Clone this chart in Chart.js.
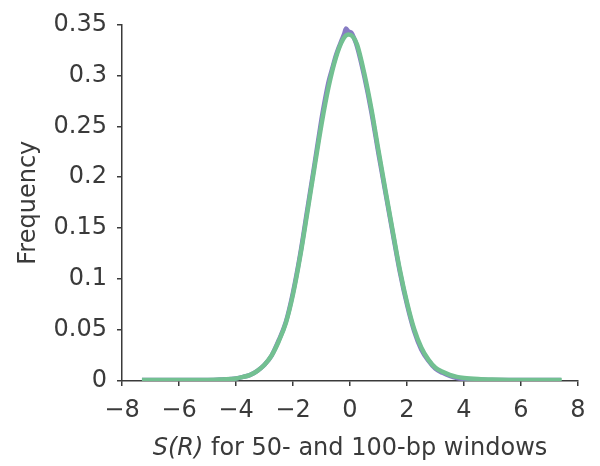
<!DOCTYPE html>
<html>
<head>
<meta charset="utf-8">
<script src="https://cdn.jsdelivr.net/npm/chart.js@4"></script>
<style>
  html, body { margin: 0; padding: 0; background: #fff; }
  #wrap { width: 600px; height: 466px; }
</style>
</head>
<body>
<div id="wrap"><canvas id="myChart" width="600" height="466"></canvas></div>
<script>
// values
const greenX = [-7.3, -6, -5, -4.5, -4.2, -4.0, -3.75, -3.5, -3.25, -3.0, -2.75, -2.5, -2.25, -2.0, -1.75, -1.5, -1.25, -1.0, -0.75, -0.5, -0.25, -0.06, 0.1, 0.25, 0.5, 0.75, 1.0, 1.25, 1.5, 1.75, 2.0, 2.25, 2.5, 2.75, 3.0, 3.25, 3.5, 3.75, 4.0, 4.5, 5, 6, 7.43];
const greenY = [0.001, 0.001, 0.001, 0.0015, 0.002, 0.0025, 0.004, 0.006, 0.010, 0.016, 0.025, 0.039, 0.057, 0.085, 0.122, 0.165, 0.209, 0.252, 0.289, 0.317, 0.335, 0.340, 0.338, 0.330, 0.302, 0.267, 0.226, 0.186, 0.147, 0.109, 0.077, 0.051, 0.033, 0.021, 0.013, 0.009, 0.006, 0.004, 0.003, 0.002, 0.0015, 0.001, 0.001];

const purpleX = [-7.3, -6, -5, -4.5, -4.0, -3.75, -3.5, -3.25, -3.0, -2.75, -2.5, -2.25, -2.0, -1.75, -1.5, -1.25, -1.0, -0.9, -0.75, -0.6, -0.5, -0.4, -0.3, -0.2, -0.14, -0.05, 0.05, 0.15, 0.25, 0.5, 0.75, 1.0, 1.25, 1.5, 1.75, 2.0, 2.25, 2.5, 2.75, 3.0, 3.25, 3.5, 3.75, 4.0, 4.5, 5, 6, 7.4];
const purpleY = [0.001, 0.001, 0.001, 0.0015, 0.0025, 0.004, 0.006, 0.010, 0.016, 0.025, 0.040, 0.058, 0.087, 0.124, 0.168, 0.212, 0.257, 0.273, 0.294, 0.309, 0.319, 0.327, 0.334, 0.341, 0.346, 0.343, 0.342, 0.336, 0.328, 0.299, 0.264, 0.223, 0.184, 0.145, 0.107, 0.075, 0.049, 0.031, 0.020, 0.012, 0.008, 0.005, 0.003, 0.002, 0.0015, 0.001, 0.001, 0.001];

const xTicks = [-8, -6, -4, -2, 0, 2, 4, 6, 8];
const yTicks = [0, 0.05, 0.1, 0.15, 0.2, 0.25, 0.3, 0.35];
const yTitle = 'Frequency';
const xTitleItalic = 'S(R)';
const xTitleRest = ' for 50- and 100-bp windows';

const FONT = 'DejaVu Sans';
const INK = '#3a3a3a';

function toPoints(xs, ys) {
    return xs.map((x, i) => ({x: x, y: ys[i]}));
}

// x axis title has an italic part, so draw it by hand
const xTitlePlugin = {
    id: 'xTitle',
    afterDraw(chart) {
        const ctx = chart.ctx;
        const area = chart.chartArea;
        ctx.save();
        ctx.fillStyle = INK;
        ctx.textBaseline = 'alphabetic';
        ctx.font = 'italic 24px "' + FONT + '"';
        const w1 = ctx.measureText(xTitleItalic).width;
        ctx.font = '24px "' + FONT + '"';
        const w2 = ctx.measureText(xTitleRest).width;
        let x = (area.left + area.right) / 2 - (w1 + w2) / 2;
        const y = 455;
        ctx.font = 'italic 24px "' + FONT + '"';
        ctx.fillText(xTitleItalic, x, y);
        ctx.font = '24px "' + FONT + '"';
        ctx.fillText(xTitleRest, x + w1, y);
        ctx.restore();
    }
};

const ctx = document.getElementById('myChart');
const myChart = new Chart(ctx, {
    type: 'line',
    data: {
        datasets: [{
            label: 'green',
            data: toPoints(greenX, greenY),
            borderColor: 'rgb(114, 192, 145)',
            borderWidth: 4.5,
            pointRadius: 0,
            cubicInterpolationMode: 'monotone'
        }, {
            label: 'purple',
            data: toPoints(purpleX, purpleY),
            borderColor: 'rgb(135, 124, 196)',
            borderWidth: 4.5,
            pointRadius: 0,
            cubicInterpolationMode: 'monotone'
        }]
    },
    options: {
        responsive: false,
        animation: false,
        layout: { padding: { left: 0, right: 22, top: 21, bottom: 0 } },
        plugins: { legend: { display: false }, tooltip: { enabled: false } },
        scales: {
            x: {
                type: 'linear',
                min: -8,
                max: 8,
                afterBuildTicks: (scale) => { scale.ticks = xTicks.map(v => ({value: v})); },
                afterFit: (scale) => { scale.height = 85; },
                grid: { drawOnChartArea: false, drawTicks: true, tickLength: 5, color: INK, lineWidth: 1.5 },
                border: { display: true, color: INK, width: 1.5 },
                ticks: {
                    color: INK,
                    padding: 10,
                    font: { family: FONT, size: 24 },
                    callback: (v) => String(v).replace('-', '\u2212')
                }
            },
            y: {
                min: 0,
                max: 0.35,
                afterBuildTicks: (scale) => { scale.ticks = yTicks.map(v => ({value: v})); },
                afterFit: (scale) => { scale.width = 122; },
                grid: { drawOnChartArea: false, drawTicks: true, tickLength: 5, color: INK, lineWidth: 1.5 },
                border: { display: true, color: INK, width: 1.5 },
                ticks: {
                    color: INK,
                    padding: 10,
                    font: { family: FONT, size: 24 },
                    callback: (v) => String(+v.toFixed(2))
                },
                title: {
                    display: true,
                    text: yTitle,
                    color: INK,
                    font: { family: FONT, size: 24 },
                    padding: { top: 14, bottom: 0 }
                }
            }
        }
    },
    plugins: [xTitlePlugin]
});
</script>
</body>
</html>
